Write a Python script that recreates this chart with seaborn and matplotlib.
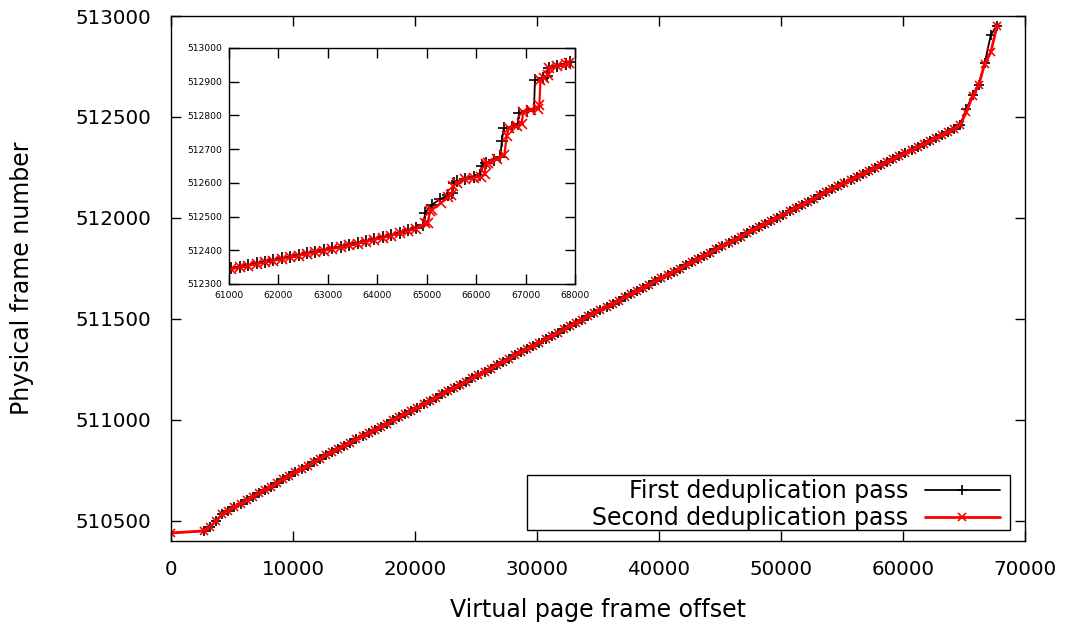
import matplotlib
matplotlib.use("Agg")
import matplotlib.pyplot as plt
import seaborn as sns
from matplotlib.patches import Rectangle

# ---------------------------------------------------------------- data
series_names = ["First deduplication pass", "Second deduplication pass"]

# Whole address range (one sample every 500 page frames after the flat start)
main_offsets = [0] + list(range(2700, 67701, 500))
main_shared = [
    510440,
    510450, 510470, 510500, 510532, 510549, 510567, 510584, 510601, 510619, 510636,
    510653, 510670, 510688, 510705, 510722, 510740, 510757, 510774, 510791, 510808,
    510824, 510840, 510856, 510871, 510887, 510903, 510919, 510935, 510951, 510966,
    510982, 510998, 511014, 511030, 511045, 511061, 511077, 511093, 511110, 511126,
    511142, 511158, 511174, 511190, 511206, 511222, 511238, 511254, 511271, 511287,
    511303, 511319, 511335, 511351, 511367, 511383, 511399, 511416, 511432, 511448,
    511464, 511480, 511496, 511512, 511527, 511543, 511559, 511575, 511591, 511607,
    511623, 511638, 511654, 511670, 511686, 511702, 511718, 511734, 511749, 511765,
    511781, 511797, 511813, 511828, 511844, 511860, 511875, 511891, 511907, 511923,
    511938, 511954, 511970, 511986, 512001, 512017, 512033, 512049, 512064, 512080,
    512096, 512112, 512127, 512143, 512158, 512172, 512187, 512202, 512217, 512231,
    512246, 512261, 512276, 512290, 512305, 512320, 512335, 512350, 512364, 512379,
    512394, 512409, 512424, 512440, 512462,
]
main_first = main_shared + [512540, 512608, 512658, 512766, 512907, 512950]
main_second = main_shared + [512525, 512602, 512656, 512764, 512820, 512950]

# Zoomed tail of the range (61000 - 68000)
inset_x_first = [
    61050, 61220, 61390, 61560, 61730, 61900, 62070, 62240, 62410, 62580,
    62750, 62920, 63090, 63260, 63430, 63600, 63770, 63940, 64110, 64280,
    64450, 64620, 64790, 64930, 64970, 65100, 65270, 65440, 65520, 65560,
    65610, 65780, 65950, 66080, 66110, 66200, 66370, 66490, 66520, 66560,
    66730, 66840, 66870, 67020, 67170, 67190, 67360, 67430, 67470, 67640,
    67810, 67900,
]
inset_y_first = [
    512346, 512351, 512356, 512361, 512366, 512371, 512376, 512381, 512386, 512391,
    512396, 512401, 512406, 512411, 512417, 512422, 512427, 512433, 512439, 512445,
    512452, 512459, 512466, 512476, 512512, 512534, 512552, 512563, 512570, 512600,
    512605, 512612, 512617, 512622, 512650, 512658, 512668, 512678, 512725, 512762,
    512766, 512775, 512808, 512812, 512818, 512905, 512910, 512916, 512940, 512946,
    512953, 512957,
]
inset_x_second = [
    61050, 61220, 61390, 61560, 61730, 61900, 62070, 62240, 62410, 62580,
    62750, 62920, 63090, 63260, 63430, 63600, 63770, 63940, 64110, 64280,
    64450, 64620, 64790, 64960, 65020, 65070, 65110, 65280, 65440, 65500,
    65530, 65610, 65780, 65950, 66100, 66170, 66190, 66250, 66420, 66570,
    66620, 66660, 66830, 66920, 66950, 67100, 67250, 67280, 67300, 67380,
    67460, 67480, 67640, 67810, 67880,
]
inset_y_second = [
    512344, 512349, 512354, 512359, 512364, 512369, 512374, 512379, 512384, 512389,
    512394, 512399, 512404, 512409, 512415, 512420, 512425, 512431, 512437, 512443,
    512450, 512457, 512463, 512480, 512482, 512515, 512520, 512540, 512558, 512565,
    512590, 512600, 512610, 512615, 512618, 512625, 512655, 512660, 512670, 512683,
    512740, 512763, 512768, 512775, 512810, 512815, 512820, 512830, 512905, 512912,
    512920, 512940, 512946, 512952, 512955,
]

main_xticks = [0, 10000, 20000, 30000, 40000, 50000, 60000, 70000]
main_yticks = [510500, 511000, 511500, 512000, 512500, 513000]
inset_xticks = [61000, 62000, 63000, 64000, 65000, 66000, 67000, 68000]
inset_yticks = [512300, 512400, 512500, 512600, 512700, 512800, 512900, 513000]

# ---------------------------------------------------------------- style
sns.set_theme(style="ticks")
plt.rcParams["font.family"] = ["DejaVu Sans"]
plt.rcParams.update({
    "axes.edgecolor": "black",
    "axes.linewidth": 1.0,
    "text.color": "black",
    "axes.labelcolor": "black",
    "xtick.color": "black",
    "ytick.color": "black",
})

fig = plt.figure(figsize=(10.67, 6.28), dpi=100)
ax = fig.add_axes([0.1603, 0.1385, 0.8003, 0.836])


def draw_pair(axis, xa, ya, xb, yb, ms, lw_red):
    sns.lineplot(x=xa, y=ya, ax=axis, color="black", lw=1.3, marker="+",
                 ms=ms, mew=1.2, mec="black", sort=False, estimator=None,
                 label=series_names[0])
    sns.lineplot(x=xb, y=yb, ax=axis, color="#ff0000", lw=lw_red, marker="x",
                 ms=ms * 0.85, mew=1.2, mec="#ff0000", sort=False,
                 estimator=None, label=series_names[1])


def frame(axis, size, pad, length):
    axis.tick_params(direction="in", top=True, right=True, length=length,
                     width=1.0, labelsize=size, pad=pad, colors="black")
    for s in axis.spines.values():
        s.set_visible(True)
        s.set_color("black")


draw_pair(ax, main_offsets, main_first, main_offsets, main_second, 7.5, 2.0)
ax.set_xlim(0, 70000)
ax.set_ylim(510400, 513000)
ax.set_xticks(main_xticks)
ax.set_yticks(main_yticks)
ax.set_xticklabels([str(v) for v in main_xticks])
ax.set_yticklabels([str(v) for v in main_yticks])
frame(ax, 14.3, 14, 7)
ax.set_xlabel("Virtual page frame offset", fontsize=17, labelpad=13)
ax.set_ylabel("Physical frame number", fontsize=17, labelpad=30)

# key: right-aligned labels with samples after the text, inside a plain box
leg = ax.legend(loc="lower right", bbox_to_anchor=(0.975, 0.014),
                markerfirst=False, frameon=False, fontsize=17,
                handlelength=3.2, handletextpad=0.7, labelspacing=0.12,
                borderaxespad=0, borderpad=0.15)
for t in leg.get_texts():
    t.set_color("black")
ax.add_patch(Rectangle((0.4169, 0.0210), 0.5655, 0.1047, transform=ax.transAxes,
                       fill=False, edgecolor="black", lw=1.0, zorder=5))

# zoomed view of the last few thousand pages
ins = fig.add_axes([0.2146, 0.5478, 0.3243, 0.3758])
draw_pair(ins, inset_x_first, inset_y_first, inset_x_second, inset_y_second, 9, 1.6)
ins.set_xlim(61000, 68000)
ins.set_ylim(512300, 513000)
ins.set_xticks(inset_xticks)
ins.set_yticks(inset_yticks)
ins.set_xticklabels([str(v) for v in inset_xticks])
ins.set_yticklabels([str(v) for v in inset_yticks])
frame(ins, 6.6, 5, 7)
ins.set_xlabel("")
ins.set_ylabel("")
if ins.get_legend() is not None:
    ins.get_legend().remove()

fig.savefig("out.png", dpi=100)
